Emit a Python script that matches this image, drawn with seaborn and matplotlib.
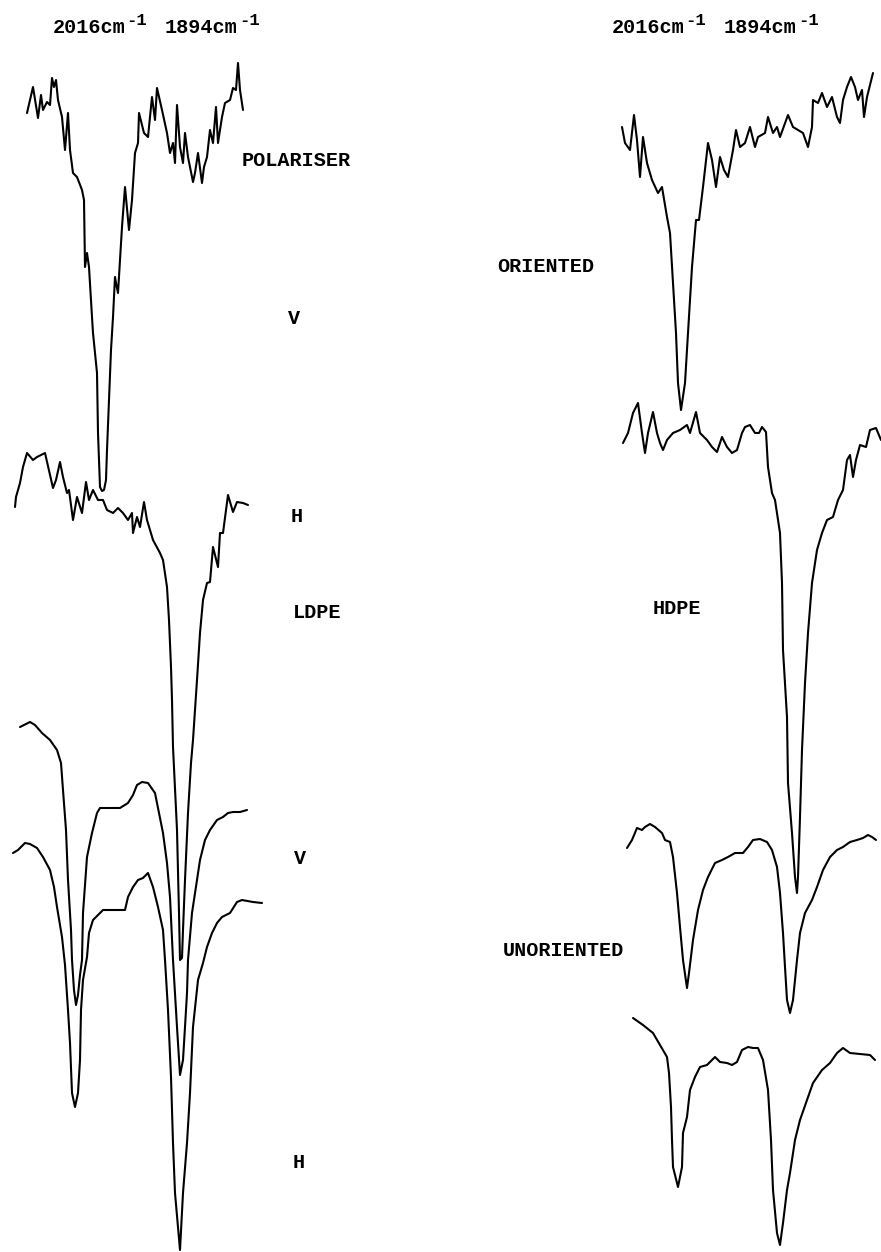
import matplotlib
matplotlib.use("Agg")
import matplotlib.pyplot as plt
import seaborn as sns
import pandas as pd

sns.set_style("white")
plt.rcParams['font.family'] = ['Liberation Mono', 'DejaVu Sans']

# traced spectra (horizontal position, pen deflection)
pol_v = [(27, 113), (33, 87), (38, 118), (41, 95), (43, 110), (47, 102), (50, 105), (52, 78),
         (54, 87), (56, 80), (58, 100), (62, 117), (65, 150), (68, 113), (70, 150), (73, 173),
         (77, 177), (82, 190), (84, 200), (85, 267), (87, 253), (89, 267), (92, 317), (93, 333),
         (97, 373), (98, 433), (100, 487), (102, 491), (104, 490), (106, 480), (107, 450),
         (109, 400), (111, 350), (113, 317), (115, 277), (116, 283), (118, 293), (122, 227),
         (125, 187), (129, 230), (132, 200), (135, 153), (138, 143), (139, 113), (144, 133),
         (148, 137), (152, 97), (155, 120), (157, 88), (162, 110), (167, 133), (170, 153),
         (173, 143), (175, 163), (177, 105), (180, 147), (183, 163), (185, 133), (188, 157),
         (193, 182), (195, 173), (198, 153), (202, 183), (204, 167), (207, 157), (210, 130),
         (213, 143), (216, 107), (218, 143), (222, 117), (225, 103), (230, 100), (233, 88),
         (236, 90), (238, 63), (240, 90), (243, 110)]

pol_h = [(15, 507), (16, 497), (20, 483), (23, 467), (27, 453), (33, 460), (37, 457), (45, 453),
         (53, 488), (56, 480), (60, 462), (63, 477), (67, 493), (69, 490), (73, 520), (77, 497),
         (82, 513), (86, 482), (89, 500), (93, 490), (98, 500), (103, 500), (107, 510),
         (113, 513), (118, 508), (123, 513), (128, 520), (132, 513), (133, 533), (137, 517),
         (140, 527), (144, 502), (147, 520), (153, 540), (160, 553), (163, 560), (167, 587),
         (169, 620), (171, 667), (172, 700), (173, 747), (177, 830), (179, 913), (180, 960),
         (182, 958), (183, 930), (185, 880), (188, 813), (191, 763), (193, 740), (197, 680),
         (200, 633), (203, 600), (207, 583), (210, 582), (213, 547), (218, 567), (220, 533),
         (223, 533), (228, 495), (233, 512), (237, 502), (243, 503), (248, 505)]

ldpe_v = [(20, 727), (30, 722), (35, 725), (42, 733), (50, 740), (57, 750), (61, 763), (63, 790),
          (66, 830), (68, 880), (71, 930), (72, 960), (74, 990), (76, 1005), (78, 995),
          (80, 975), (82, 960), (83, 913), (87, 857), (92, 833), (97, 813), (100, 808),
          (110, 808), (120, 808), (128, 803), (133, 795), (137, 785), (142, 782), (148, 783),
          (155, 793), (159, 813), (163, 833), (167, 863), (170, 897), (173, 960), (177, 1027),
          (180, 1075), (183, 1060), (185, 1027), (187, 993), (188, 960), (192, 913), (197, 880),
          (200, 860), (205, 840), (210, 830), (217, 820), (223, 817), (228, 813), (233, 812),
          (240, 812), (247, 810)]

ldpe_h = [(13, 853), (18, 850), (25, 843), (30, 844), (37, 848), (43, 857), (50, 870), (54, 887),
          (57, 907), (62, 937), (65, 965), (68, 1010), (70, 1043), (72, 1093), (75, 1107),
          (78, 1093), (80, 1060), (81, 1010), (83, 980), (87, 957), (89, 933), (93, 920),
          (98, 915), (103, 910), (113, 910), (125, 910), (128, 897), (133, 887), (138, 880),
          (143, 878), (148, 873), (153, 887), (158, 907), (163, 930), (165, 960), (168, 1010),
          (171, 1077), (173, 1143), (175, 1193), (180, 1250), (183, 1193), (187, 1143),
          (190, 1093), (193, 1027), (198, 980), (203, 963), (207, 947), (212, 933), (217, 923),
          (222, 917), (230, 913), (237, 902), (242, 900), (253, 902), (262, 903)]

ori_v = [(622, 127), (625, 143), (630, 150), (634, 115), (637, 140), (640, 177), (643, 137),
         (647, 163), (652, 180), (658, 193), (662, 187), (667, 217), (670, 233), (673, 283),
         (676, 333), (678, 383), (681, 410), (685, 383), (688, 333), (692, 267), (696, 220),
         (699, 220), (703, 187), (708, 143), (712, 160), (716, 187), (720, 157), (724, 170),
         (728, 177), (733, 150), (736, 130), (740, 147), (745, 143), (750, 127), (755, 147),
         (758, 137), (765, 133), (768, 117), (773, 133), (777, 127), (780, 137), (788, 115),
         (793, 127), (798, 130), (803, 133), (808, 147), (812, 127), (813, 100), (818, 103),
         (822, 93), (827, 107), (832, 97), (837, 117), (840, 123), (843, 100), (847, 87),
         (851, 77), (855, 87), (858, 100), (862, 90), (864, 117), (867, 97), (873, 73)]

ori_h = [(623, 443), (628, 433), (633, 413), (638, 403), (642, 433), (645, 453), (648, 433),
         (653, 412), (657, 433), (660, 443), (663, 450), (667, 440), (673, 433), (680, 430),
         (687, 425), (690, 433), (696, 412), (700, 433), (707, 440), (712, 447), (717, 452),
         (722, 437), (727, 447), (732, 453), (737, 450), (742, 433), (745, 427), (750, 425),
         (755, 433), (759, 433), (762, 427), (766, 432), (768, 467), (772, 493), (775, 500),
         (780, 533), (782, 583), (783, 650), (787, 717), (788, 783), (792, 833), (795, 877),
         (797, 893), (798, 877), (800, 817), (802, 750), (805, 683), (808, 633), (812, 583),
         (817, 550), (822, 533), (827, 520), (833, 517), (838, 500), (843, 490), (847, 460),
         (850, 455), (853, 477), (856, 460), (860, 445), (866, 447), (870, 430), (876, 428),
         (881, 440)]

unori_v = [(627, 848), (632, 840), (637, 828), (642, 830), (645, 827), (650, 824), (655, 827),
           (662, 833), (665, 840), (670, 842), (673, 857), (677, 893), (680, 927), (683, 960),
           (687, 988), (689, 973), (693, 940), (698, 910), (703, 890), (708, 877), (715, 863),
           (722, 860), (728, 857), (735, 853), (743, 853), (748, 847), (753, 840), (760, 839),
           (767, 842), (772, 850), (777, 867), (780, 893), (783, 933), (785, 967), (787, 1000),
           (790, 1013), (793, 1000), (797, 960), (800, 933), (805, 913), (812, 900), (817, 887),
           (823, 870), (830, 857), (837, 850), (843, 847), (850, 842), (857, 840), (863, 838),
           (868, 835), (872, 837), (876, 840)]

unori_h = [(633, 1018), (643, 1025), (653, 1033), (660, 1045), (667, 1057), (669, 1073),
           (671, 1107), (672, 1140), (673, 1167), (678, 1187), (682, 1167), (683, 1133),
           (687, 1117), (690, 1090), (695, 1077), (700, 1067), (707, 1065), (715, 1057),
           (720, 1062), (727, 1063), (732, 1065), (737, 1062), (742, 1050), (748, 1047),
           (753, 1048), (758, 1048), (763, 1060), (768, 1090), (771, 1140), (773, 1190),
           (777, 1233), (780, 1245), (783, 1223), (787, 1190), (790, 1173), (795, 1140),
           (800, 1120), (807, 1100), (813, 1083), (822, 1070), (830, 1063), (837, 1053),
           (843, 1048), (850, 1053), (860, 1054), (870, 1055), (875, 1060)]

traces = {'LDPE/polariser V': pol_v, 'LDPE/polariser H': pol_h,
          'LDPE V': ldpe_v, 'LDPE H': ldpe_h,
          'HDPE oriented V': ori_v, 'HDPE oriented H': ori_h,
          'HDPE unoriented V': unori_v, 'HDPE unoriented H': unori_h}

rows = []
for name, pts in traces.items():
    for i, (x, y) in enumerate(pts):
        rows.append({'trace': name, 'order': i, 'x': x, 'y': y})
df = pd.DataFrame(rows)

fig = plt.figure(figsize=(8.81, 12.52), dpi=100)
ax = fig.add_axes([0, 0, 1, 1])
sns.lineplot(data=df, x='x', y='y', units='trace', estimator=None, sort=False,
             color='black', linewidth=1.5, ax=ax, legend=False)
ax.set_xlim(0, 881)
ax.set_ylim(1252, 0)
ax.axis('off')

fs = 14.5
txt = dict(fontsize=fs, fontweight='bold', color='black')
sup = dict(fontsize=12.5, fontweight='bold', color='black')

# wavenumber headers over both panels
for x0 in (53, 612):
    ax.text(x0, 33, '2016cm', ha='left', va='baseline', **txt)
    ax.text(x0 + 73, 25, '-1', ha='left', va='baseline', **sup)
    ax.text(x0 + 112, 33, '1894cm', ha='left', va='baseline', **txt)
    ax.text(x0 + 186, 25, '-1', ha='left', va='baseline', **sup)

labels = [('POLARISER', 242, 161), ('V', 288, 319), ('H', 291, 517), ('LDPE', 293, 613),
          ('V', 294, 858), ('H', 293, 1163),
          ('ORIENTED', 497, 267), ('HDPE', 653, 609), ('UNORIENTED', 503, 951)]
for s, x, y in labels:
    ax.text(x, y, s, ha='left', va='center', **txt)

fig.savefig('out.png', dpi=100, facecolor='white')
